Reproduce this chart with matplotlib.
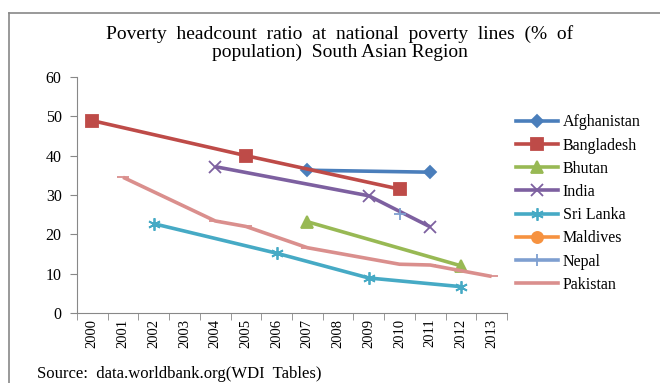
import numpy as np
import matplotlib.pyplot as plt
from matplotlib.lines import Line2D

# --- Data ---
years = list(range(2000, 2014))

afg_years = [2007, 2011]
afg_vals = [36.3, 35.8]

bgd_years = [2000, 2005, 2010]
bgd_vals = [48.9, 40.0, 31.5]

btn_years = [2007, 2012]
btn_vals = [23.2, 12.0]

ind_years = [2004, 2009, 2011]
ind_vals = [37.2, 29.8, 21.9]

lka_years = [2002, 2006, 2009, 2012]
lka_vals = [22.7, 15.2, 8.9, 6.7]

mdv_years = []
mdv_vals = []

npl_years = [2010]
npl_vals = [25.2]

pak_years = [2001, 2004, 2005, 2007, 2010, 2011, 2013]
pak_vals = [34.5, 23.4, 22.0, 16.6, 12.4, 12.2, 9.3]

series = [
    ('Afghanistan', afg_years, afg_vals, '#4A7EBB', 'D', 6),
    ('Bangladesh', bgd_years, bgd_vals, '#BE4B48', 's', 8),
    ('Bhutan', btn_years, btn_vals, '#98B954', '^', 8),
    ('India', ind_years, ind_vals, '#7D60A0', 'x', 8),
    ('Sri Lanka', lka_years, lka_vals, '#46AAC5', (6, 2, 0), 9),
    ('Maldives', mdv_years, mdv_vals, '#F69240', 'o', 8),
    ('Nepal', npl_years, npl_vals, '#7E9FD0', '+', 9),
    ('Pakistan', pak_years, pak_vals, '#DA8F8D', '_', 8),
]

serif = 'Liberation Serif'
plt.rcParams['font.family'] = serif

fig = plt.figure(figsize=(6.6, 3.83), dpi=100)
ax = fig.add_axes([77 / 660, 1 - 313 / 383, 430 / 660, 236 / 383])

handles = []
for name, xs, ys, color, marker, ms in series:
    pos = [years.index(y) + 0.5 for y in xs]
    ax.plot(pos, ys, color=color, lw=2.6, marker=marker, ms=ms,
            mew=1.3, solid_capstyle='butt', zorder=3)
    handles.append(Line2D([], [], color=color, lw=2.6, marker=marker,
                          ms=ms, mew=1.3, label=name))

ax.set_xlim(0, len(years))
ax.set_ylim(0, 60)
ax.set_yticks(range(0, 61, 10))
ax.set_xticks(np.arange(len(years)) + 0.5)
ax.set_xticklabels([str(y) for y in years], rotation=90, fontsize=10.5)
ax.set_xticks(np.arange(len(years) + 1), minor=True)
ax.tick_params(axis='x', which='major', length=0, pad=4)
ax.tick_params(axis='x', which='minor', length=5, color='#888888', direction='out')
ax.tick_params(axis='y', length=5, color='#888888', labelsize=11.5, pad=6)

for s in ['top', 'right']:
    ax.spines[s].set_visible(False)
for s in ['left', 'bottom']:
    ax.spines[s].set_color('#888888')

fig.text(0.515, 1 - 43 / 383, 'Poverty  headcount  ratio  at  national  poverty  lines  (%  of\n'
         'population)  South Asian Region', ha='center', va='center',
         fontsize=14, linespacing=1.0)

fig.legend(handles=handles, loc='upper left', bbox_to_anchor=(510 / 660, 1 - 108 / 383),
           frameon=False, fontsize=11.5, handlelength=2.6, labelspacing=0.45,
           handletextpad=0.3, borderaxespad=0)

fig.text(37 / 660, 1 - 374 / 383, 'Source:  data.worldbank.org(WDI  Tables)',
         fontsize=12, va='center')

# outer chart border (top and left edges visible)
fig.add_artist(Line2D([9 / 660, 9 / 660], [0, 1 - 13 / 383], color='#888888', lw=1.2,
                      transform=fig.transFigure))
fig.add_artist(Line2D([9 / 660, 1], [1 - 13 / 383, 1 - 13 / 383], color='#888888', lw=1.2,
                      transform=fig.transFigure))

fig.savefig('out.png', dpi=100)
